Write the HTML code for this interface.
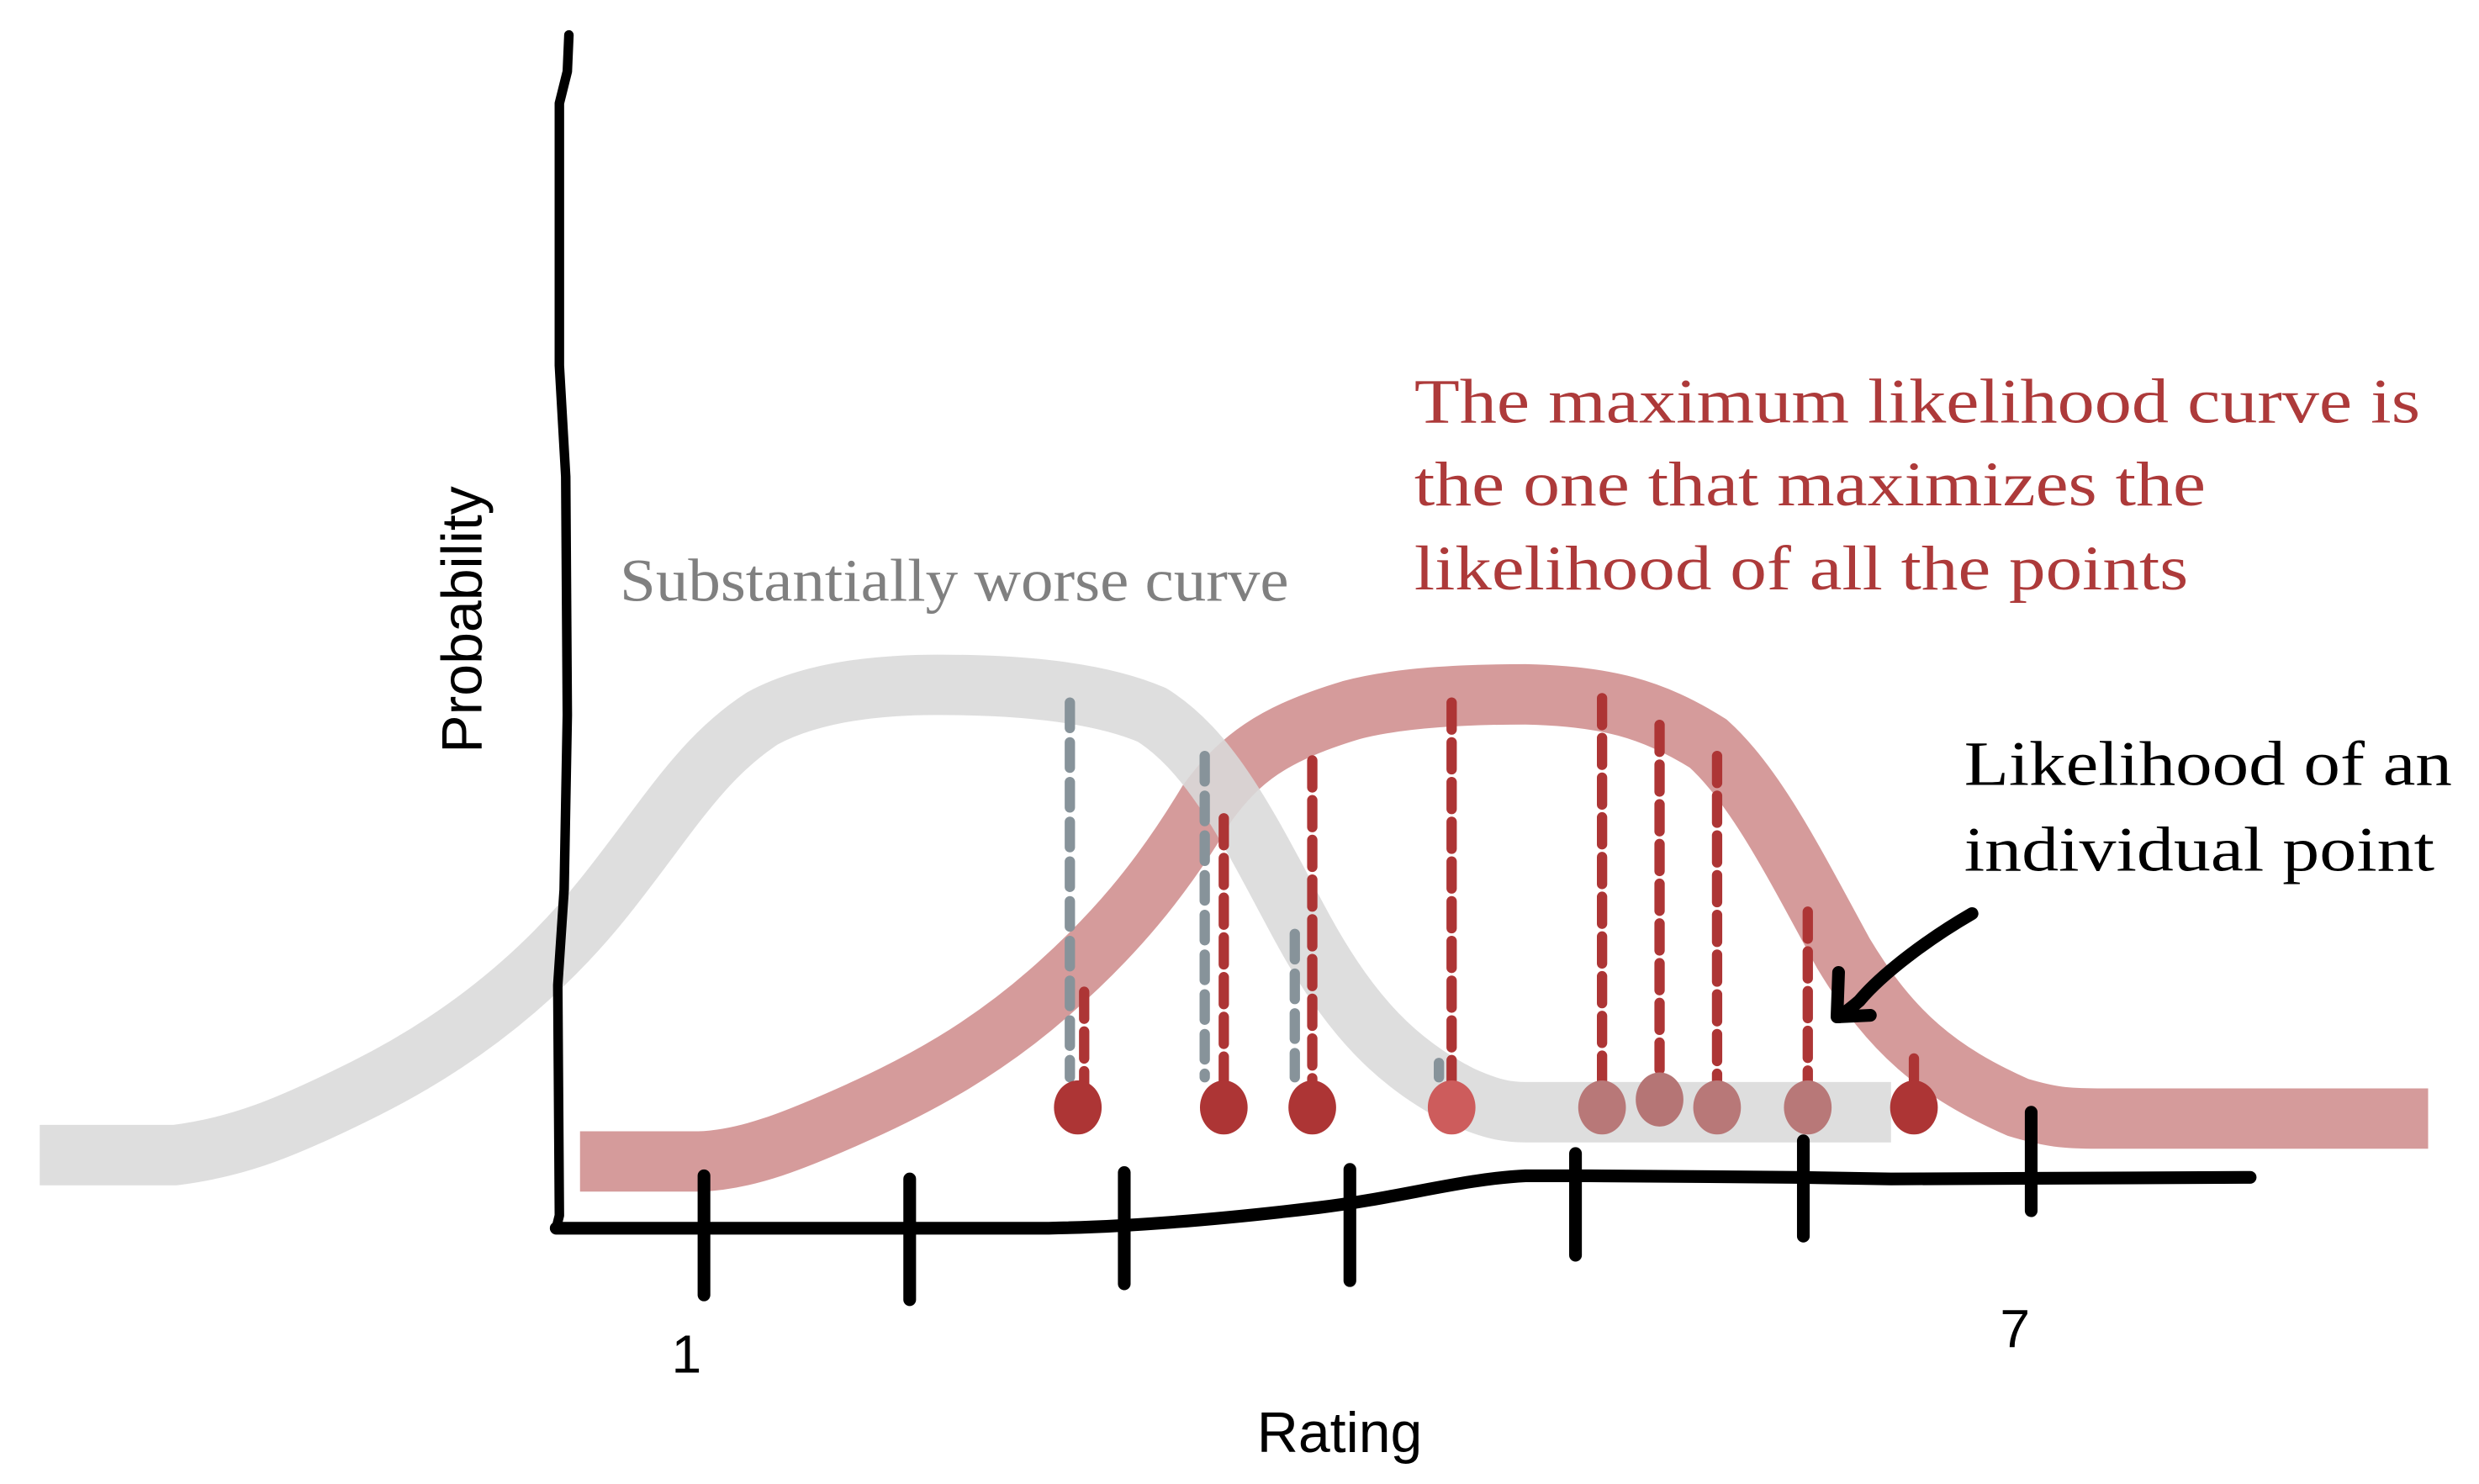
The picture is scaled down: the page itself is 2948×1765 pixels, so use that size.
<!DOCTYPE html>
<html><head><meta charset="utf-8"><style>
html,body{margin:0;padding:0;background:#fff;}
svg{display:block;}
.serif{font-family:"Liberation Serif",serif;}
.sans{font-family:"Liberation Sans","DejaVu Sans",sans-serif;}
</style></head><body>
<svg id="chart" width="2948" height="1765" viewBox="0 0 1560 934" xmlns="http://www.w3.org/2000/svg">
  <g id="curves">
    <path d="M365,731 L440,731 C470,730 500,718 540,700 C580,682 620,660 660,625 C700,590 730,555 760,505 C780,478 800,462 850,447 C880,439 920,437 960,437 C1010,438 1040,446 1075,468 C1105,495 1130,545 1160,600 C1190,650 1220,675 1270,697 C1290,703 1300,704 1320,704 L1528,704" fill="none" stroke="#d59b9b" stroke-width="38"/>
    <path d="M25,727 L110,727 C150,722 180,710 230,685 C290,655 340,615 380,565 C420,515 440,478 480,452 C510,436 550,431 590,431 C640,431 690,435 725,450 C765,475 790,530 820,585 C850,640 880,670 920,690 C940,699 950,700 960,700 L1190,700" fill="none" stroke="#dadada" stroke-opacity="0.88" stroke-width="38"/>
  </g>
  <g id="lines"></g>
  <g stroke="#000" fill="none" stroke-linecap="round" stroke-linejoin="round">
    <path d="M358,22 L357,45 L352,65 L352,230 L356,300 L357,450 L355,560 L351,620 L352,765 L350,773" stroke-width="6"/>
    <path d="M350,773 L660,773 C720,772 780,766 830,760 C880,754 920,742 960,740 L1000,740 L1130,741 L1190,742 L1416,741" stroke-width="8"/>
    <g id="ticks" stroke-width="8"></g>
  </g>
  <text class="sans" x="432" y="864" font-size="34" text-anchor="middle">1</text>
  <text class="sans" x="1268" y="848" font-size="34" text-anchor="middle">7</text>
  <text class="sans" x="843" y="914" font-size="36" text-anchor="middle">Rating</text>
  <text class="sans" transform="translate(303,390) rotate(-90)" font-size="36" text-anchor="middle">Probability</text>
  <text class="serif" x="390" y="378" font-size="38" fill="#808080" textLength="421" lengthAdjust="spacingAndGlyphs">Substantially worse curve</text>
  <g class="serif" fill="#ad3a3a" font-size="40">
    <text x="890" y="266" textLength="633" lengthAdjust="spacingAndGlyphs">The maximum likelihood curve is</text>
    <text x="890" y="318" textLength="498" lengthAdjust="spacingAndGlyphs">the one that maximizes the</text>
    <text x="890" y="371" textLength="487" lengthAdjust="spacingAndGlyphs">likelihood of all the points</text>
  </g>
  <g class="serif" fill="#000" font-size="40">
    <text x="1236" y="494" textLength="307" lengthAdjust="spacingAndGlyphs">Likelihood of an</text>
    <text x="1236" y="548" textLength="296" lengthAdjust="spacingAndGlyphs">individual point</text>
  </g>
  <g fill="none" stroke="#000" stroke-width="8" stroke-linecap="round" stroke-linejoin="round">
    <path d="M1241,575 C1215,590 1185,612 1170,630 C1163,636 1160,638 1157,640"/>
    <path d="M1157,612 L1156,640 L1177,639"/>
  </g>
</svg>
<script>
const ratings = [2.69, 3.35, 3.75, 4.38, 5.06, 5.32, 5.58, 5.99, 6.47];
const bestLikelihood = [0.26, 0.65, 0.78, 0.91, 0.92, 0.86, 0.79, 0.44, 0.11];
const worseLikelihood = [0.91, 0.79, 0.39, 0.10];
const tickRatings = [1, 1.93, 2.9, 3.92, 4.94, 5.97, 7];
const NS = 'http://www.w3.org/2000/svg';
function xScale(r){ return 443 + (r - 1) * 139.2; }
function yScale(p){ return 697 - p * 280; }
function mk(tag, attrs, parent){ const e = document.createElementNS(NS, tag); for (const k in attrs) e.setAttribute(k, attrs[k]); parent.appendChild(e); return e; }
const ticks = document.getElementById('ticks');
const tickTops = [740, 742, 738, 736, 726, 718, 700];
const tickBots = [815, 818, 808, 806, 790, 778, 762];
tickRatings.forEach((r, i) => {
  const t = mk('line', {x1: xScale(r), x2: xScale(r), y1: tickTops[i], y2: tickBots[i]}, ticks);
  
  
});
const lines = document.getElementById('lines');
const grayOffsets = [-5, -12, -11, -8];
worseLikelihood.forEach((p, i) => {
  const x = xScale(ratings[i]) + grayOffsets[i];
  const l = mk('line', {x1: x, x2: x, y1: yScale(p), y2: 678, stroke: '#87939a', 'stroke-width': 6.5, 'stroke-dasharray': '16 9', 'stroke-linecap': 'round'}, lines);
  
  
});
bestLikelihood.forEach((p, i) => {
  const x = xScale(ratings[i]) + (i === 0 ? 4 : 0);
  const l = mk('line', {x1: x, x2: x, y1: yScale(p), y2: 682, stroke: '#ad3535', 'stroke-width': 6.5, 'stroke-dasharray': '17 8', 'stroke-linecap': 'round'}, lines);
  
  
});
const dotColors = ['#ad3535','#ad3535','#ad3535','#cd5c5c','#b87878','#b57575','#b87878','#b87878','#ad3535'];
ratings.forEach((r, i) => {
  const d = mk('ellipse', {cx: xScale(r), cy: i === 5 ? 692 : 697, rx: 15, ry: 17, fill: dotColors[i]}, lines);
  
  
});
</script>
</body></html>
